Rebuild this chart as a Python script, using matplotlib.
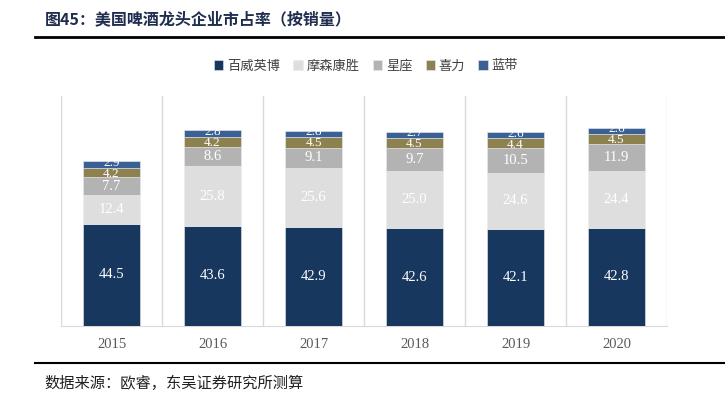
import matplotlib
matplotlib.use("Agg")
import matplotlib.pyplot as plt
import numpy as np

years = ["2015", "2016", "2017", "2018", "2019", "2020"]
series_names = ["百威英博", "摩森康胜", "星座", "喜力", "蓝带"]
ab_inbev = [44.5, 43.6, 42.9, 42.6, 42.1, 42.8]
molson = [12.4, 25.8, 25.6, 25.0, 24.6, 24.4]
constellation = [7.7, 8.6, 9.1, 9.7, 10.5, 11.9]
heineken = [4.2, 4.2, 4.5, 4.5, 4.4, 4.5]
pabst = [2.9, 2.8, 2.8, 2.7, 2.6, 2.6]
series = [ab_inbev, molson, constellation, heineken, pabst]
colors = ["#17375e", "#dedede", "#b3b3b3", "#8e8150", "#3a6094"]

FAM = ["Liberation Serif", "Noto Sans CJK SC", "DejaVu Sans"]
CJK = ["Noto Sans CJK SC", "DejaVu Sans"]

fig = plt.figure(figsize=(7.25, 4.0), dpi=100)
ax = fig.add_axes([61/725, 1-326/400, (667-61)/725, (326-96)/400])

x = np.arange(len(years))
bottom = np.zeros(len(years))
for si, (name, vals, col) in enumerate(zip(series_names, series, colors)):
    vals = np.array(vals)
    ax.bar(x, vals, 0.57, bottom=bottom, color=col, label=name,
           edgecolor="#e8ecf2", linewidth=0.4, zorder=3)
    small = si >= 3
    nudge = {3: -0.5, 4: 0.7}.get(si, 0.0)
    for xi, b, v in zip(x, bottom, vals):
        ax.text(xi, b + v/2 + nudge, f"{v:.1f}", ha="center", va="center",
                color="white", fontsize=9.5 if small else 10.5,
                family=FAM, zorder=4)
    bottom += vals

ax.set_xlim(-0.5, len(years) - 0.5)
ax.set_ylim(0, 100)
for gx in np.arange(-0.5, len(years), 1.0):
    ax.axvline(gx, color="#d9d9d9", lw=1, zorder=1)
for s in ["left", "right", "top"]:
    ax.spines[s].set_visible(False)
ax.spines["bottom"].set_color("#d9d9d9")
ax.set_yticks([])
ax.set_xticks(x)
ax.set_xticklabels(years, family=FAM, fontsize=10.5, color="#595959")
ax.tick_params(axis="x", length=0, pad=9)

leg = fig.legend(loc="center", bbox_to_anchor=(366/725, 1-66/400), ncol=5,
                 frameon=False, prop={"family": CJK, "size": 9.5},
                 handlelength=0.7, handleheight=0.7, handletextpad=0.3,
                 columnspacing=1.0, labelcolor="#404040")

fig.text(45/725, 1-19/400, "图45：美国啤酒龙头企业市占率（按销量）",
         family=CJK, fontsize=11.5, fontweight="bold", color="#1f2d4f",
         ha="left", va="center")
fig.add_artist(plt.Line2D([35/725, 1.0], [1-37/400, 1-37/400],
                          color="black", lw=2, transform=fig.transFigure))
fig.add_artist(plt.Line2D([35/725, 1.0], [1-363/400, 1-363/400],
                          color="black", lw=1.5, transform=fig.transFigure))
fig.text(44/725, 1-383/400, "数据来源：欧睿，东吴证券研究所测算",
         family=CJK, fontsize=11, color="#202020", ha="left", va="center")

fig.savefig("out.png", dpi=100)
